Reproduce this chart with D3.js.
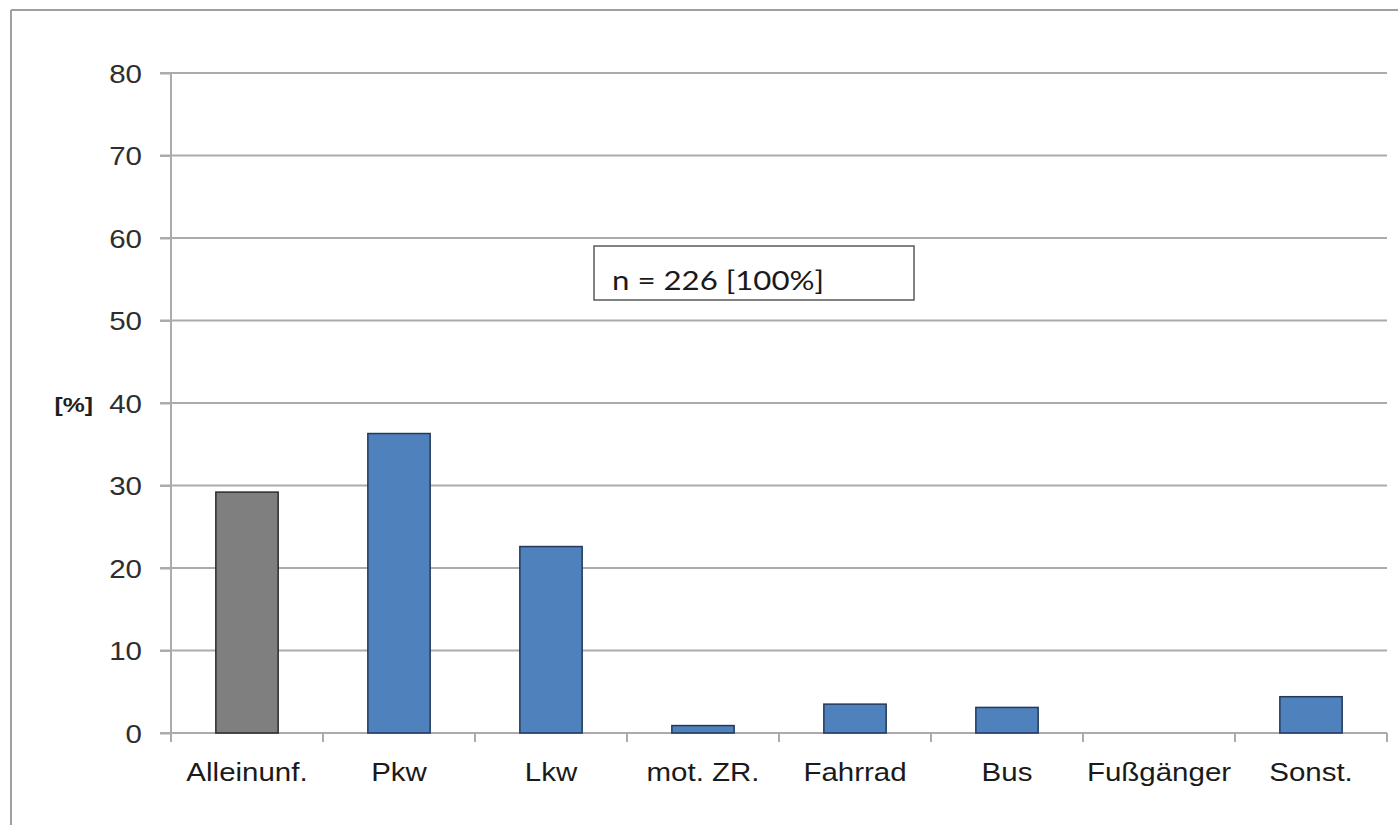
<!DOCTYPE html>
<html>
<head>
<meta charset="utf-8">
<script src="https://cdn.jsdelivr.net/npm/d3@7"></script>
<style>
  html, body { margin: 0; padding: 0; background: #fff; }
  svg { display: block; }
</style>
</head>
<body>
<svg id="chart" width="1398" height="825"></svg>
<script>
const categories = ["Alleinunf.", "Pkw", "Lkw", "mot. ZR.", "Fahrrad", "Bus", "Fußgänger", "Sonst."];
const values = [29.2, 36.3, 22.6, 0.9, 3.5, 3.1, 0, 4.4];
const barKinds = ["single", "other", "other", "other", "other", "other", "other", "other"];
const yTicks = [0, 10, 20, 30, 40, 50, 60, 70, 80];
const yUnitLabel = "[%]";
const annotation = "n = 226 [100%]";

const svg = d3.select("#chart");
const W = 1398, H = 825;
const margin = { left: 171, right: 11, top: 73, bottom: 92 };
const sx = 1.18; // horizontal text stretch of the original

const x = d3.scaleBand().domain(categories).range([margin.left, W - margin.right]).paddingInner(0.59).paddingOuter(0.295);
const xEdges = d3.scaleLinear().domain([0, categories.length]).range([margin.left, W - margin.right]);
const y = d3.scaleLinear().domain([0, 80]).range([H - margin.bottom, margin.top]);

// outer frame (left + top)
svg.append("line").attr("x1", 11).attr("x2", 11).attr("y1", 10).attr("y2", H).attr("stroke", "#a0a0a0").attr("stroke-width", 2);
svg.append("line").attr("x1", 11).attr("x2", W).attr("y1", 10).attr("y2", 10).attr("stroke", "#a0a0a0").attr("stroke-width", 2);

// gridlines
svg.append("g").selectAll("line").data(yTicks.filter(d => d > 0)).join("line")
  .attr("x1", margin.left - 11).attr("x2", W - margin.right)
  .attr("y1", d => y(d)).attr("y2", d => y(d))
  .attr("stroke", "#ababab").attr("stroke-width", 2);

// y axis
const gy = svg.append("g").attr("transform", `translate(${margin.left},0)`)
  .call(d3.axisLeft(y).tickValues(yTicks).tickSize(11).tickPadding(0).tickFormat(d3.format("d")));
gy.select(".domain").attr("stroke", "#ababab").attr("stroke-width", 2).attr("d", `M0,${y(80)}V${y(0) + 8}`);
gy.selectAll(".tick line").attr("stroke", "#ababab").attr("stroke-width", 2);
gy.selectAll(".tick text").remove();
gy.selectAll(".tick").append("g")
  .attr("transform", `translate(-29,9) scale(${sx},1)`)
  .append("text")
  .attr("text-anchor", "end")
  .attr("font-family", "Liberation Sans, Arial, sans-serif")
  .attr("font-size", 25)
  .attr("fill", "#2e2e2e")
  .text(d => d);

// unit label
svg.append("g").attr("transform", `translate(93,412) scale(${sx},1)`)
  .append("text").attr("text-anchor", "end")
  .attr("font-family", "Liberation Sans, Arial, sans-serif")
  .attr("font-size", 21).attr("font-weight", "bold").attr("fill", "#1f1f1f")
  .text(yUnitLabel);

// x axis
svg.append("line").attr("x1", margin.left - 11).attr("x2", W - margin.right)
  .attr("y1", y(0)).attr("y2", y(0)).attr("stroke", "#ababab").attr("stroke-width", 2);
svg.append("g").selectAll("line").data(d3.range(categories.length + 1)).join("line")
  .attr("x1", d => xEdges(d)).attr("x2", d => xEdges(d))
  .attr("y1", y(0)).attr("y2", y(0) + 9)
  .attr("stroke", "#ababab").attr("stroke-width", 2);

// bars
svg.append("g").selectAll("rect").data(categories).join("rect")
  .attr("x", d => x(d))
  .attr("width", x.bandwidth())
  .attr("y", (d, i) => y(values[i]))
  .attr("height", (d, i) => y(0) - y(values[i]))
  .attr("fill", (d, i) => barKinds[i] === "single" ? "#7f7f7f" : "#4f81bd")
  .attr("stroke", (d, i) => barKinds[i] === "single" ? "#2b2b2b" : "#22395a")
  .attr("stroke-width", (d, i) => values[i] > 0 ? 1.5 : 0);

// x labels
svg.append("g").selectAll("g").data(categories).join("g")
  .attr("transform", d => `translate(${x(d) + x.bandwidth() / 2},781) scale(${sx},1)`)
  .append("text").attr("text-anchor", "middle")
  .attr("font-family", "Liberation Sans, Arial, sans-serif")
  .attr("font-size", 25).attr("fill", "#1a1a1a")
  .text(d => d);

// annotation box
svg.append("rect").attr("x", 594).attr("y", 246).attr("width", 320).attr("height", 54)
  .attr("fill", "#fff").attr("stroke", "#595959").attr("stroke-width", 1.5);
svg.append("g").attr("transform", `translate(612,290) scale(1.2,1)`)
  .append("text")
  .attr("font-family", "Lato, Open Sans, sans-serif")
  .attr("font-size", 26).attr("fill", "#1a1a1a")
  .text(annotation);
</script>
</body>
</html>
